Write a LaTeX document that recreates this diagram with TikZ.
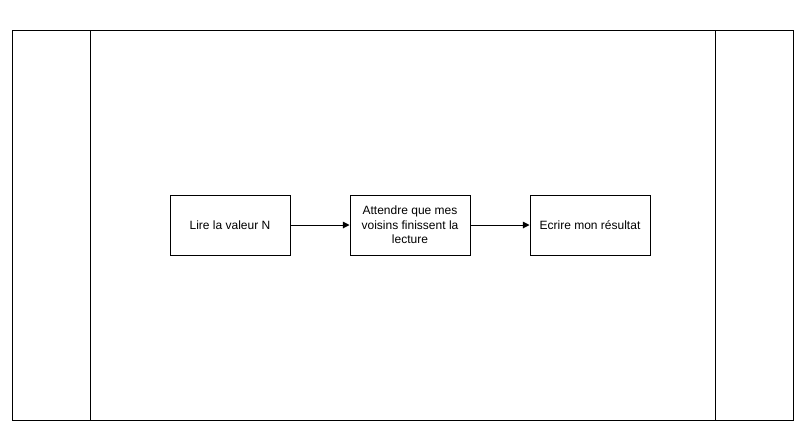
\documentclass[tikz,border=0pt]{standalone}
\usepackage{fontspec}
\setmainfont{Liberation Sans}
\usetikzlibrary{arrows.meta}

\begin{document}
\begin{tikzpicture}[x=0.75pt,y=-0.75pt]
			\tikzset{etape/.style={draw,minimum width=90pt,minimum height=45pt,align=center,inner sep=0pt,font=\fontsize{9pt}{11pt}\selectfont,line width=0.75pt}}
			\tikzset{fleche/.style={-{Triangle[length=5pt,width=5pt]},line width=0.75pt}}
			\useasboundingbox (0,0) rectangle (809,437);
			% couloirs
			\draw[line width=0.75pt] (12,30) rectangle (793,420);
			\draw[line width=0.75pt] (90,30) -- (90,420);
			\draw[line width=0.75pt] (715,30) -- (715,420);
			% etapes
			\node[etape] (lire) at (230,225) {Lire la valeur N};
			\node[etape] (attendre) at (410,225) {Attendre que mes\\voisins finissent la\\lecture};
			\node[etape] (ecrire) at (590,225) {Ecrire mon résultat};
			\draw[fleche] (lire) -- (attendre);
			\draw[fleche] (attendre) -- (ecrire);
		\end{tikzpicture}
\end{document}
